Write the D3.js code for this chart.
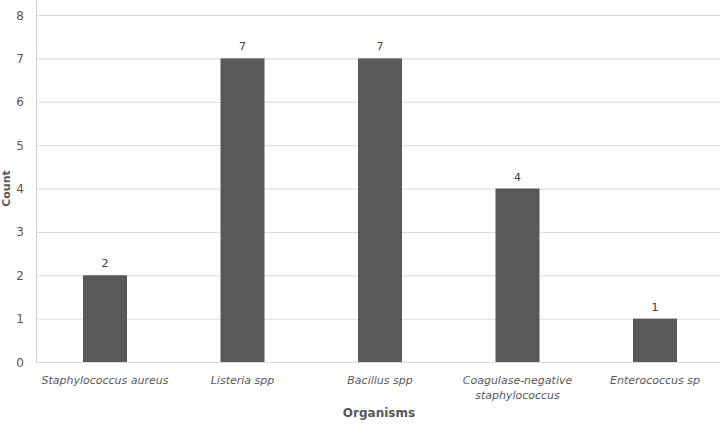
<!DOCTYPE html>
<html>
<head>
<meta charset="utf-8">
<script src="https://cdn.jsdelivr.net/npm/d3@7"></script>
<style>
  body { margin: 0; background: #fff; }
  text { font-family: "DejaVu Sans", Verdana, sans-serif; }
</style>
</head>
<body>
<svg id="chart" width="720" height="429"></svg>
<script>
// organisms and their counts
const organisms = ["Staphylococcus aureus", "Listeria spp", "Bacillus spp", "Coagulase-negative staphylococcus", "Enterococcus sp"];
const counts = [2, 7, 7, 4, 1];
const yTicks = [0, 1, 2, 3, 4, 5, 6, 7, 8];

// label lines (the long name wraps)
const labelLines = [["Staphylococcus aureus"], ["Listeria spp"], ["Bacillus spp"], ["Coagulase-negative", "staphylococcus"], ["Enterococcus sp"]];

const svg = d3.select("#chart");
const left = 36.25, right = 723.75, bottom = 362, top8 = 15;

let x = d3.scaleBand()
  .domain(organisms)
  .range([left, right])
  .paddingInner(0.68)
  .paddingOuter(0.34);

let y = d3.scaleLinear()
  .domain([0, 8])
  .range([bottom, top8]);

// gridlines
svg.append("g")
  .selectAll("line")
  .data(yTicks)
  .join("line")
  .attr("x1", left)
  .attr("x2", 720)
  .attr("y1", d => y(d) + 0.5)
  .attr("y2", d => y(d) + 0.5)
  .attr("stroke", "#d9d9d9")
  .attr("stroke-width", 1);

// y axis line
svg.append("line")
  .attr("x1", 36.5).attr("x2", 36.5)
  .attr("y1", 0).attr("y2", bottom + 0.5)
  .attr("stroke", "#d0d0d0");

// y tick labels
svg.append("g")
  .selectAll("text")
  .data(yTicks)
  .join("text")
  .attr("x", 24)
  .attr("y", d => y(d) + 4.5)
  .attr("text-anchor", "end")
  .attr("font-size", 12)
  .attr("fill", "#595959")
  .text(d => d);

// bars
svg.append("g")
  .selectAll("rect")
  .data(counts)
  .join("rect")
  .attr("x", (d, i) => x(organisms[i]))
  .attr("y", d => y(d))
  .attr("width", x.bandwidth())
  .attr("height", d => bottom - y(d))
  .attr("fill", "#595959");

// value labels
svg.append("g")
  .selectAll("text")
  .data(counts)
  .join("text")
  .attr("x", (d, i) => x(organisms[i]) + x.bandwidth() / 2)
  .attr("y", d => y(d) - 8)
  .attr("text-anchor", "middle")
  .attr("font-size", 11)
  .attr("fill", "#404040")
  .text(d => d);

// x category labels
let cat = svg.append("g")
  .selectAll("text")
  .data(organisms)
  .join("text")
  .attr("x", d => x(d) + x.bandwidth() / 2)
  .attr("y", 384)
  .attr("text-anchor", "middle")
  .attr("font-size", 11)
  .attr("font-style", "italic")
  .attr("fill", "#595959");

cat.selectAll("tspan")
  .data((d, i) => labelLines[i])
  .join("tspan")
  .attr("x", function () { return this.parentNode.getAttribute("x"); })
  .attr("dy", (d, i) => i === 0 ? 0 : 15)
  .text(d => d);

// axis titles
svg.append("text")
  .attr("transform", "translate(10," + (bottom + top8) / 2 + ") rotate(-90)")
  .attr("text-anchor", "middle")
  .attr("font-size", 11)
  .attr("font-weight", "bold")
  .attr("fill", "#595959")
  .text("Count");

svg.append("text")
  .attr("x", 379)
  .attr("y", 417)
  .attr("text-anchor", "middle")
  .attr("font-size", 12)
  .attr("font-weight", "bold")
  .attr("fill", "#595959")
  .text("Organisms");
</script>
</body>
</html>
